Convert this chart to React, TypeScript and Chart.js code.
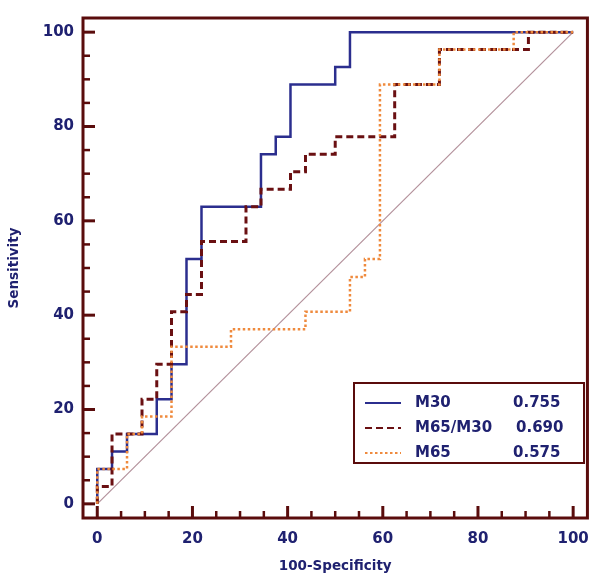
import React, { useEffect, useRef } from "react";
import { Chart, registerables } from "chart.js";

Chart.register(...registerables);

// ---- data ----
const seriesNames = ["M30", "M65/M30", "M65"];
const aucValues = ["0.755", "0.690", "0.575"];

const m30X = [0, 0, 3.1, 6.25, 12.5, 15.6, 18.75, 21.9, 34.4, 37.5, 40.6, 50, 53.1, 100];
const m30Y = [0, 7.4, 11.1, 14.8, 22.2, 29.6, 51.9, 63.0, 74.1, 77.8, 88.9, 92.6, 100, 100];

const m65m30X = [0, 0, 3.1, 9.4, 12.5, 15.6, 18.75, 21.9, 31.25, 34.4, 40.6, 43.75, 50, 62.5, 71.9, 90.6, 100];
const m65m30Y = [0, 3.7, 14.8, 22.2, 29.6, 40.7, 44.4, 55.6, 63.0, 66.7, 70.4, 74.1, 77.8, 88.9, 96.3, 100, 100];

const m65X = [0, 0, 6.25, 9.4, 15.6, 28.1, 43.75, 53.1, 56.25, 59.4, 71.9, 87.5, 100];
const m65Y = [0, 7.4, 14.8, 18.5, 33.3, 37.0, 40.7, 48.1, 51.9, 88.9, 96.3, 100, 100];

const refX = [0, 100];
const refY = [0, 100];

const majorTicks = [0, 20, 40, 60, 80, 100];
const minorTicks = [5, 10, 15, 25, 30, 35, 45, 50, 55, 65, 70, 75, 85, 90, 95];
const axisMin = -3;
const axisMax = 103;

// ---- styles ----
const navy = "#1f2170";
const frameColor = "#5a0c0c";
const blue = "#2b2e8e";
const brown = "#6a1012";
const orange = "#ef8a3d";
const diag = "#b3919b";
const FONT = "'DejaVu Sans', Verdana, sans-serif";

const toPoints = (xs: number[], ys: number[]) => xs.map((x, i) => ({ x, y: ys[i] }));

const framePlugin = {
  id: "frameTicksLegend",
  afterDatasetsDraw(chart: any) {
    const { ctx, chartArea: a, scales } = chart;
    const xs = scales.x;
    const ys = scales.y;
    const line = (x1: number, y1: number, x2: number, y2: number) => {
      ctx.beginPath();
      ctx.moveTo(x1, y1);
      ctx.lineTo(x2, y2);
      ctx.stroke();
    };
    ctx.save();
    ctx.setLineDash([]);
    ctx.strokeStyle = frameColor;
    ctx.lineWidth = 3;
    ctx.strokeRect(a.left, a.top, a.right - a.left, a.bottom - a.top);
    // major ticks (inward)
    ctx.lineWidth = 3;
    majorTicks.forEach((v) => {
      const px = xs.getPixelForValue(v);
      line(px, a.bottom, px, a.bottom - 12);
      const py = ys.getPixelForValue(v);
      line(a.left, py, a.left + 12, py);
    });
    ctx.lineWidth = 2.5;
    minorTicks.forEach((v) => {
      const px = xs.getPixelForValue(v);
      line(px, a.bottom, px, a.bottom - 7);
      const py = ys.getPixelForValue(v);
      line(a.left, py, a.left + 7, py);
    });

    // legend box
    const bx = 354, by = 383, bw = 230, bh = 80;
    ctx.fillStyle = "#ffffff";
    ctx.fillRect(bx, by, bw, bh);
    ctx.strokeStyle = frameColor;
    ctx.lineWidth = 2;
    ctx.strokeRect(bx, by, bw, bh);
    const dsIdx = [0, 1, 2];
    ctx.font = `bold 15px ${FONT}`;
    ctx.textBaseline = "middle";
    ctx.textAlign = "left";
    dsIdx.forEach((di, i) => {
      const ds = chart.data.datasets[di];
      const ry = 403 + i * 25;
      ctx.strokeStyle = ds.borderColor;
      ctx.lineWidth = 2;
      ctx.setLineDash(ds.borderDash || []);
      line(365, ry, 401, ry);
      ctx.setLineDash([]);
      ctx.fillStyle = navy;
      ctx.fillText(seriesNames[i], 415, ry);
      ctx.fillText(aucValues[i], i === 1 ? 516 : 513, ry);
    });
    ctx.restore();
  },
};

export default function App() {
  const ref = useRef<HTMLCanvasElement | null>(null);
  useEffect(() => {
    if (!ref.current) return;
    const tickFont = { family: FONT, size: 15, weight: "bold" as const };
    const titleFont = { family: FONT, size: 13.5, weight: "bold" as const };
    const chart = new Chart(ref.current, {
      type: "scatter",
      data: {
        datasets: [
          {
            label: seriesNames[0],
            data: toPoints(m30X, m30Y),
            showLine: true,
            stepped: true,
            borderColor: blue,
            borderWidth: 2.5,
            pointRadius: 0,
            order: 2,
          },
          {
            label: seriesNames[1],
            data: toPoints(m65m30X, m65m30Y),
            showLine: true,
            stepped: true,
            borderColor: brown,
            borderWidth: 3,
            borderDash: [7, 4],
            pointRadius: 0,
            order: 1,
          },
          {
            label: seriesNames[2],
            data: toPoints(m65X, m65Y),
            showLine: true,
            stepped: true,
            borderColor: orange,
            borderWidth: 2.5,
            borderDash: [2.5, 2.5],
            pointRadius: 0,
            order: 0,
          },
          {
            label: "ref",
            data: toPoints(refX, refY),
            showLine: true,
            borderColor: diag,
            borderWidth: 1.2,
            pointRadius: 0,
            order: 3,
          },
        ],
      },
      options: {
        animation: false,
        responsive: false,
        devicePixelRatio: 1,
        layout: { padding: { top: 6, right: 7, left: 0, bottom: 0 } },
        plugins: { legend: { display: false }, tooltip: { enabled: false } },
        scales: {
          x: {
            type: "linear",
            min: axisMin,
            max: axisMax,
            afterBuildTicks: (s: any) => {
              s.ticks = majorTicks.map((v) => ({ value: v }));
            },
            afterFit: (s: any) => {
              s.height = 63;
            },
            grid: { display: false, drawTicks: false },
            border: { display: false },
            ticks: { color: navy, font: tickFont, padding: 12, maxRotation: 0, autoSkip: false },
            title: {
              display: true,
              text: "100-Specificity",
              color: navy,
              font: titleFont,
              padding: { top: 0, bottom: 6 },
            },
          },
          y: {
            type: "linear",
            min: axisMin,
            max: axisMax,
            afterBuildTicks: (s: any) => {
              s.ticks = majorTicks.map((v) => ({ value: v }));
            },
            afterFit: (s: any) => {
              s.width = 83;
            },
            grid: { display: false, drawTicks: false },
            border: { display: false },
            ticks: { color: navy, font: tickFont, padding: 9, autoSkip: false },
            title: {
              display: true,
              text: "Sensitivity",
              color: navy,
              font: titleFont,
              padding: { top: 6, bottom: 0 },
            },
          },
        },
      },
      plugins: [framePlugin],
    });
    return () => chart.destroy();
  }, []);
  return (
    <div style={{ position: "fixed", left: 0, top: 0, width: 601, height: 581, background: "#fff" }}>
      <canvas ref={ref} width={601} height={581} style={{ width: 601, height: 581, display: "block" }} />
    </div>
  );
}
